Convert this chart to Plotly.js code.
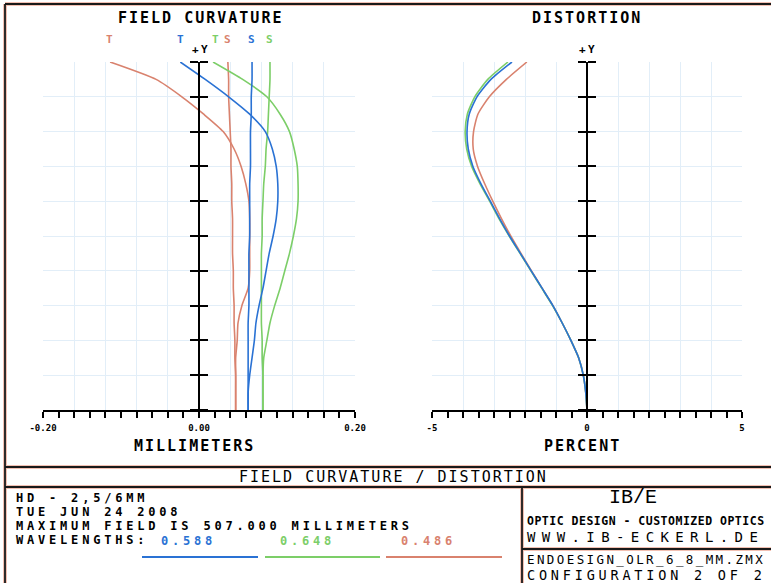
<!DOCTYPE html>
<html>
<head>
<meta charset="utf-8">
<script src="https://cdn.plot.ly/plotly-3.0.1.min.js"></script>
<style>
html,body{margin:0;padding:0;background:#fff;}
#chart{width:771px;height:583px;}
text[style*="DejaVu Sans Mono"][style*="font-size: 15px"]{letter-spacing:2px;}
text[style*="DejaVu Sans Mono"][style*="font-size: 12px"]{letter-spacing:3.8px;}
text[style*="DejaVu Sans Mono"][style*="font-size: 11.5px"]{letter-spacing:0.5px;}
text[style*="DejaVu Sans Mono"][style*="font-size: 11px"]{letter-spacing:2.4px;}
text[style*="DejaVu Sans Mono"][style*="font-size: 14px"]{letter-spacing:6.4px;}
text[style*="DejaVu Sans Mono"][style*="font-size: 12.5px"]{letter-spacing:2.4px;}
text[style*="DejaVu Sans Mono"][style*="font-size: 13.5px"]{letter-spacing:3.8px;}
</style>
</head>
<body>
<div id="chart"></div>
<script>
// ---------------- data ----------------
const fieldY = [0,0.05,0.1,0.15,0.2,0.25,0.3,0.35,0.4,0.45,0.5,0.55,0.6,0.65,0.7,0.75,0.8,0.85,0.9,0.95,1.0];

// field curvature (millimeters)
const fc486T = [0.047,0.047,0.047,0.047,0.049,0.050,0.055,0.063,0.065,0.065,0.065,0.065,0.064,0.060,0.054,0.045,0.031,0.006,-0.022,-0.055,-0.114];
const fc486S = [0.047,0.047,0.047,0.046,0.046,0.045,0.045,0.044,0.044,0.043,0.043,0.043,0.042,0.042,0.041,0.041,0.040,0.039,0.038,0.038,0.037];
const fc588T = [0.063,0.063,0.065,0.068,0.071,0.073,0.077,0.082,0.086,0.090,0.095,0.099,0.101,0.101,0.099,0.094,0.085,0.065,0.038,0.008,-0.024];
const fc588S = [0.063,0.063,0.063,0.063,0.063,0.063,0.064,0.064,0.064,0.064,0.065,0.065,0.065,0.065,0.066,0.066,0.066,0.067,0.067,0.068,0.068];
const fc648T = [0.082,0.082,0.082,0.083,0.087,0.091,0.097,0.104,0.110,0.116,0.121,0.125,0.127,0.127,0.126,0.122,0.116,0.104,0.087,0.056,0.018];
const fc648S = [0.082,0.082,0.082,0.081,0.081,0.080,0.080,0.080,0.080,0.080,0.081,0.081,0.082,0.083,0.085,0.086,0.088,0.089,0.090,0.091,0.091];

// distortion (percent)
const dist588 = [0,-0.04,-0.12,-0.27,-0.52,-0.8,-1.1,-1.45,-1.8,-2.15,-2.5,-2.82,-3.12,-3.42,-3.68,-3.83,-3.87,-3.8,-3.55,-3.1,-2.42];
const dist648 = [0,-0.04,-0.12,-0.27,-0.52,-0.8,-1.11,-1.46,-1.81,-2.16,-2.51,-2.84,-3.14,-3.45,-3.72,-3.88,-3.93,-3.86,-3.62,-3.2,-2.55];
const dist486 = [0,-0.04,-0.12,-0.27,-0.52,-0.8,-1.1,-1.45,-1.79,-2.13,-2.46,-2.76,-3.04,-3.3,-3.53,-3.67,-3.66,-3.52,-3.15,-2.6,-1.94];

const wavelengths = ['0.588','0.648','0.486'];
const fcTickVals = [-0.2,-0.18,-0.16,-0.14,-0.12,-0.1,-0.08,-0.06,-0.04,-0.02,0,0.02,0.04,0.06,0.08,0.1,0.12,0.14,0.16,0.18,0.2];
const fcTickText = ['-0.20','','','','','','','','','','0.00','','','','','','','','','','0.20'];
const dTickVals = [-5,-4.5,-4,-3.5,-3,-2.5,-2,-1.5,-1,-0.5,0,0.5,1,1.5,2,2.5,3,3.5,4,4.5,5];
const dTickText = ['-5','','','','','','','','','','0','','','','','','','','','','5'];

// ---------------- style ----------------
const BLUE='#2a72d4', GREEN='#7cce68', RED='#d9826e';
const GRID='#e2eef8';
const W=771, H=583;
const X=p=>p/W, Y=p=>1-p/H;
const MONO='DejaVu Sans Mono';

function line(xs, ys, color, xa, ya){
  return {x:xs, y:ys, xaxis:xa, yaxis:ya, mode:'lines', type:'scatter',
    line:{color:color, width:1.6, shape:'spline', smoothing:0.6}, hoverinfo:'skip'};
}
const traces = [
  line(fc486S, fieldY, RED, 'x','y'),
  line(fc486T, fieldY, RED, 'x','y'),
  line(fc648S, fieldY, GREEN, 'x','y'),
  line(fc648T, fieldY, GREEN, 'x','y'),
  line(fc588S, fieldY, BLUE, 'x','y'),
  line(fc588T, fieldY, BLUE, 'x','y'),
  line(dist486, fieldY, RED, 'x2','y2'),
  line(dist648, fieldY, GREEN, 'x2','y2'),
  line(dist588, fieldY, BLUE, 'x2','y2'),
  // empty traces to bind overlay axes
  {x:[],y:[],xaxis:'x3',yaxis:'y',type:'scatter',mode:'lines'},
  {x:[],y:[],xaxis:'x4',yaxis:'y2',type:'scatter',mode:'lines'},
  {x:[],y:[],xaxis:'x',yaxis:'y3',type:'scatter',mode:'lines'},
  {x:[],y:[],xaxis:'x',yaxis:'y4',type:'scatter',mode:'lines'},
  {x:[],y:[],xaxis:'x2',yaxis:'y5',type:'scatter',mode:'lines'},
  {x:[],y:[],xaxis:'x2',yaxis:'y6',type:'scatter',mode:'lines'}
];

const domL=[X(43),X(355)], domR=[X(432),X(742)], domY=[Y(410),Y(62)];
function gridX(dom, rng, dt, anchor){
  return {domain:dom, range:rng, autorange:false, anchor:anchor, showgrid:true, gridcolor:GRID, gridwidth:1,
    tick0:rng[0], dtick:dt, ticks:'', showticklabels:false, zeroline:false, showline:false, fixedrange:true};
}
function tickX(over, anchor, rng, vals, txt){
  return {overlaying:over, anchor:anchor, range:rng, autorange:false, tickmode:'array', tickvals:vals, ticktext:txt,
    ticks:'outside', ticklen:6, tickwidth:2, tickcolor:'#000', showline:true, linecolor:'#000', linewidth:2,
    showgrid:false, zeroline:false, ticklabelstandoff:2,
    tickfont:{family:MONO, size:9, color:'#000', weight:'bold'}, fixedrange:true};
}
function gridY(anchor){
  return {domain:domY, range:[0,1], autorange:false, anchor:anchor, showgrid:true, gridcolor:GRID, gridwidth:1,
    tick0:0, dtick:0.1, ticks:'', showticklabels:false, zeroline:false, showline:false, fixedrange:true};
}
function crossY(over, pos, side, showLine){
  return {overlaying:over, anchor:'free', position:pos, side:side, range:[0,1], autorange:false,
    tick0:0, dtick:0.1, ticks:'outside', ticklen:8, tickwidth:2, tickcolor:'#000',
    showline:showLine, linecolor:'#000', linewidth:2, showgrid:false, zeroline:false,
    showticklabels:false, fixedrange:true};
}

function ann(text, px, py, size, opts){
  opts = opts||{};
  return {text:text, x:X(px), y:Y(py), xref:'paper', yref:'paper', showarrow:false,
    xanchor:opts.anchor||'center', yanchor:'middle', borderpad:0,
    font:{family:opts.family||MONO, size:size, color:opts.color||'#000', weight:opts.weight||'bold'}};
}

const annotations = [
  ann('FIELD CURVATURE', 200, 18, 15),
  ann('DISTORTION', 587, 18, 15),
  ann('MILLIMETERS', 194, 446, 15),
  ann('PERCENT', 582, 446, 15),
  ann('T', 110, 40, 11, {color:RED}),
  ann('T', 181, 40, 11, {color:BLUE}),
  ann('T', 216, 40, 11, {color:GREEN}),
  ann('S', 228, 40, 11, {color:RED}),
  ann('S', 252, 40, 11, {color:BLUE}),
  ann('S', 270, 40, 11, {color:GREEN}),
  ann('+Y', 201, 49, 11),
  ann('+Y', 588, 49, 11),
  ann('FIELD CURVATURE / DISTORTION', 393, 477, 15, {weight:'normal'}),
  ann('HD - 2,5/6MM', 15, 498, 12, {anchor:'left'}),
  ann('TUE JUN 24 2008', 15, 512, 12, {anchor:'left'}),
  ann('MAXIMUM FIELD IS 507.000 MILLIMETERS', 15, 526, 12, {anchor:'left'}),
  ann('WAVELENGTHS:', 15, 540, 12, {anchor:'left'}),
  ann(wavelengths[0], 188, 541, 12, {color:BLUE}),
  ann(wavelengths[1], 307, 541, 12, {color:GREEN}),
  ann(wavelengths[2], 428, 541, 12, {color:RED}),
  ann('IB/E', 633, 497, 20, {family:'Liberation Mono', weight:'normal'}),
  ann('OPTIC DESIGN - CUSTOMIZED OPTICS', 526, 521, 11.5, {anchor:'left', weight:'bold'}),
  ann('WWW.IB-ECKERL.DE', 526, 536.5, 14, {anchor:'left', weight:'normal'}),
  ann('ENDOESIGN_OLR_6_8_MM.ZMX', 526, 559.5, 12.5, {anchor:'left', weight:'normal'}),
  ann('CONFIGURATION 2 OF 2', 526, 575, 13.5, {anchor:'left', weight:'normal'})
];

function seg(x0,y0,x1,y1,color,w){
  return {type:'line', xref:'paper', yref:'paper', x0:X(x0), y0:Y(y0), x1:X(x1), y1:Y(y1),
    line:{color:color, width:w}, layer:'above'};
}
const frame = [[5,4,771,4],[5,4,5,583],[5,467,771,467],[5,487,771,487],[522,487,522,583],[522,549,771,549]];
const shapes = [];
frame.forEach(f=>shapes.push(seg(f[0],f[1],f[2],f[3],'#f2c0b2',4)));
frame.forEach(f=>shapes.push(seg(f[0],f[1],f[2],f[3],'#1a1a1a',1.8)));
shapes.push(seg(142,557,258,557,BLUE,2));
shapes.push(seg(265,557,380,557,GREEN,2));
shapes.push(seg(386,557,502,557,RED,2));

const layout = {
  width:W, height:H, margin:{l:0,r:0,t:0,b:0}, paper_bgcolor:'#fff', plot_bgcolor:'rgba(0,0,0,0)',
  showlegend:false, hovermode:false,
  xaxis: gridX(domL, [-0.2,0.2], 0.04, 'y'),
  xaxis2: gridX(domR, [-5,5], 1, 'y2'),
  xaxis3: tickX('x', 'y', [-0.2,0.2], fcTickVals, fcTickText),
  xaxis4: tickX('x2', 'y2', [-5,5], dTickVals, dTickText),
  yaxis: gridY('x'),
  yaxis2: gridY('x2'),
  yaxis3: crossY('y', X(199), 'left', true),
  yaxis4: crossY('y', X(199), 'right', false),
  yaxis5: crossY('y2', X(587), 'left', true),
  yaxis6: crossY('y2', X(587), 'right', false),
  annotations: annotations,
  shapes: shapes
};

Plotly.newPlot('chart', traces, layout, {staticPlot:true, displayModeBar:false});
</script>
</body>
</html>
